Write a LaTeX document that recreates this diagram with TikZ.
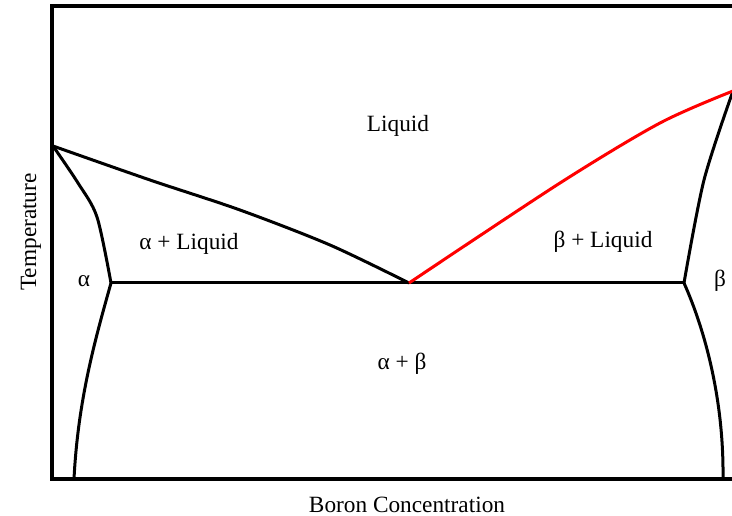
\documentclass[tikz,border=0pt]{standalone}
\usepackage{fontspec}
\setmainfont{Liberation Serif}
\begin{document}
\begin{tikzpicture}[x=1pt, y=-1pt,
 frame/.style={line width=3.6pt},
 phase/.style={line width=3pt, line join=round},
 liq/.style={phase, red},
 lbl/.style={font=\fontsize{23.3}{27}\selectfont, inner sep=0pt, anchor=base}]
\useasboundingbox (0,0) rectangle (732,516);
\coordinate (tmA) at (53,146);
\coordinate (tmB) at (733,91);
\coordinate (eut) at (409,283);
\coordinate (aE) at (111,283);
\coordinate (bE) at (684,283);
\coordinate (aB) at (74,479);
\coordinate (bB) at (723,479);
\draw[frame] (735,6) -- (52,6) -- (52,479) -- (735,479);
\draw[phase] plot[smooth, tension=0.5] coordinates {(tmA) (150,180) (240,210) (330,245) (eut)};
\draw[phase] plot[smooth, tension=0.5] coordinates {(tmA) (78,183) (97,217) (aE)};
\draw[phase] (aE) .. controls (95,340) and (78,400) .. (aB);
\draw[phase] (aE) -- (bE);
\draw[phase] plot[smooth, tension=0.5] coordinates {(bE) (704,180) (tmB)};
\draw[phase] (bE) .. controls (705,330) and (724,400) .. (bB);
\draw[liq] plot[smooth, tension=0.5] coordinates {(eut) (560,183) (660,123) (tmB)};
\node[lbl] (liquid) at (398,132) {Liquid};
\node[lbl] (aliq) at (189,250) {α + Liquid};
\node[lbl] (bliq) at (603,248) {β + Liquid};
\node[lbl] (alpha) at (84,287) {α};
\node[lbl] (beta) at (720,287) {β};
\node[lbl] (ab) at (402,370) {α + β};
\node[lbl] (xlab) at (407,512) {Boron Concentration};
\node[lbl, rotate=90] (ylab) at (36,232) {Temperature};
\end{tikzpicture}
\end{document}
